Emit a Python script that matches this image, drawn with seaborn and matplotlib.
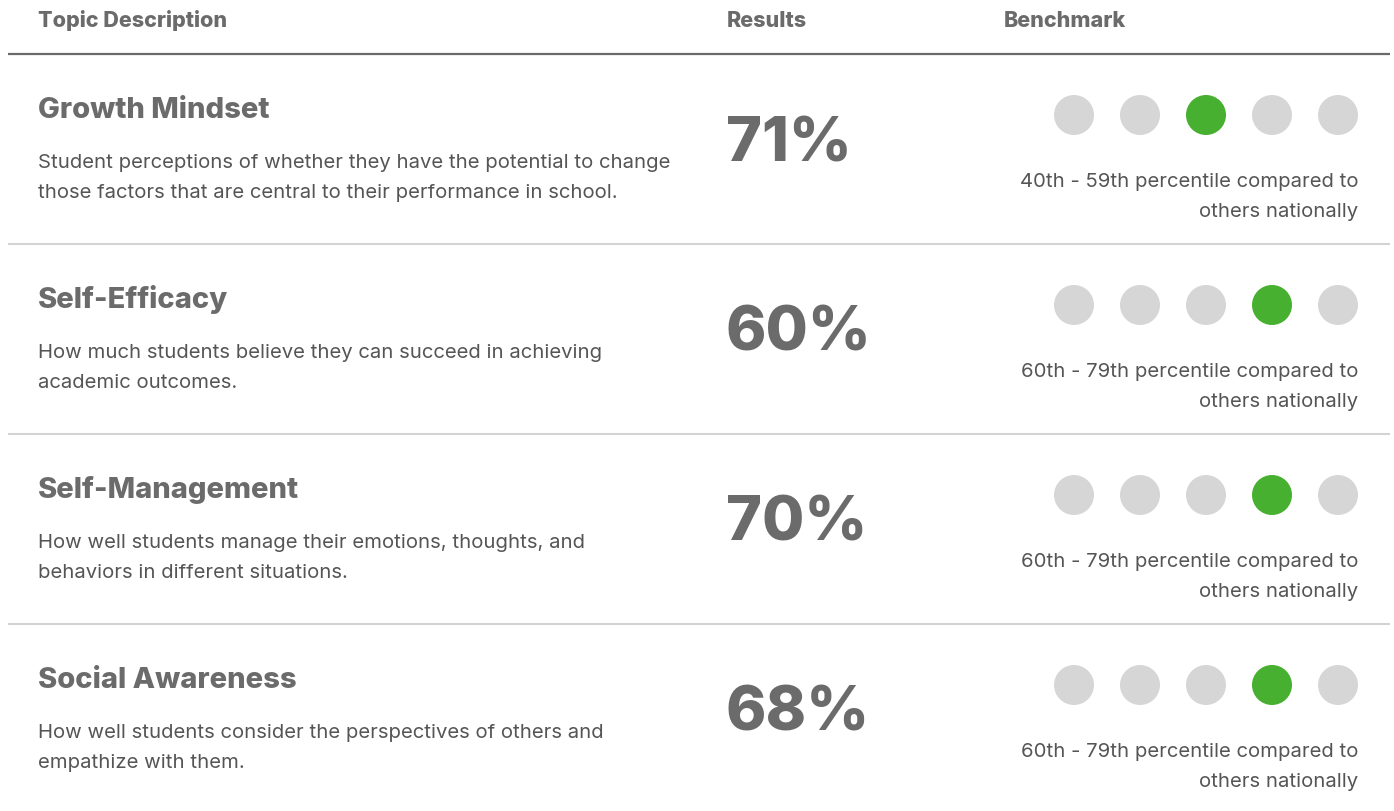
import seaborn as sns
import matplotlib.pyplot as plt
import pandas as pd

# donnees du tableau
topics = ["Growth Mindset", "Self-Efficacy", "Self-Management", "Social Awareness"]
descriptions = [
    ["Student perceptions of whether they have the potential to change",
     "those factors that are central to their performance in school."],
    ["How much students believe they can succeed in achieving",
     "academic outcomes."],
    ["How well students manage their emotions, thoughts, and",
     "behaviors in different situations."],
    ["How well students consider the perspectives of others and",
     "empathize with them."],
]
results = [71, 60, 70, 68]
benchmark_level = [3, 4, 4, 4]          # position du point vert (1 a 5)
benchmark_labels = ["40th - 59th", "60th - 79th", "60th - 79th", "60th - 79th"]
headers = ["Topic Description", "Results", "Benchmark"]

DARK = "#6b6b6b"
TEXT = "#555555"
GREY_DOT = "#d6d6d6"
GREEN = "#47b030"
FONT = ["Inter", "DejaVu Sans"]

sns.set_theme(style="white")
plt.rcParams['font.family'] = FONT

W, H = 1394, 812
fig = plt.figure(figsize=(W / 100, H / 100), dpi=100)
ax = fig.add_axes([0, 0, 1, 1])
ax.set_xlim(0, W)
ax.set_ylim(H, 0)
ax.axis("off")

# entete
for txt, x in zip(headers, [38, 727, 1004]):
    ax.text(x, 27, txt, fontsize=15.5, fontweight=800, color=DARK, va="baseline")
ax.plot([8, 1390], [55, 55], color=DARK, lw=1.6, solid_capstyle="butt")

row_h = 190
for i, topic in enumerate(topics):
    base = row_h * i
    ax.text(38, 118 + base, topic, fontsize=21, fontweight=800, color=DARK, va="baseline")
    for j, line in enumerate(descriptions[i]):
        ax.text(38, 168 + 30 * j + base, line, fontsize=14.6, color=TEXT, va="baseline")
    ax.text(726, 161 + base, f"{results[i]}%", fontsize=44, fontweight=800,
            color=DARK, va="baseline")
    ax.text(1358, 187 + base, f"{benchmark_labels[i]} percentile compared to",
            fontsize=14.6, color=TEXT, va="baseline", ha="right")
    ax.text(1358, 217 + base, "others nationally",
            fontsize=14.6, color=TEXT, va="baseline", ha="right")
    if i < len(topics) - 1:
        ax.plot([8, 1390], [245 + base, 245 + base], color="#d3d3d3", lw=1.5,
                solid_capstyle="butt")

# points du benchmark
rows = []
for i, lvl in enumerate(benchmark_level):
    for p in range(1, 6):
        rows.append({"row": i, "pos": p, "state": "on" if p == lvl else "off"})
dots = pd.DataFrame(rows)

ax2 = fig.add_axes([1041 / W, 1 - 781 / H, 330 / W, 760 / H])
sns.scatterplot(data=dots, x="pos", y="row", hue="state",
                palette={"on": GREEN, "off": GREY_DOT},
                s=830, linewidth=0, legend=False, ax=ax2)
ax2.set_xlim(0.5, 5.5)
ax2.set_ylim(3.5, -0.5)
ax2.axis("off")

fig.savefig("out.png", dpi=100, facecolor="white")
